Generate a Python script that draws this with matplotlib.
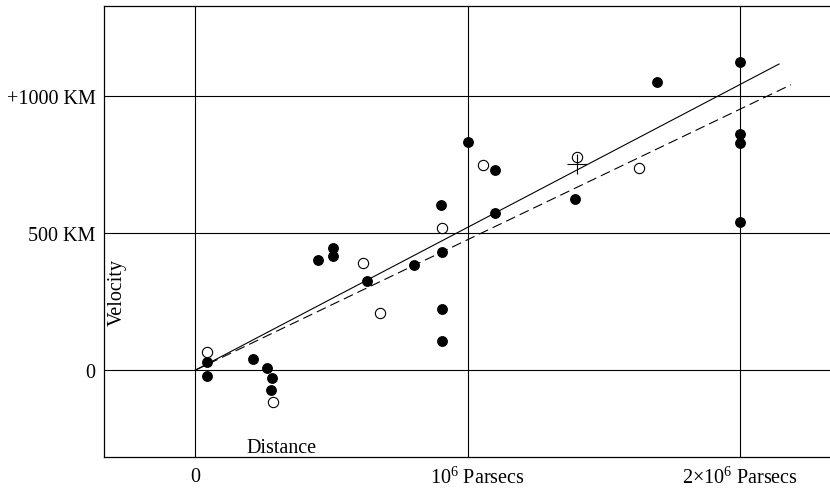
import matplotlib
matplotlib.use("Agg")
import matplotlib.pyplot as plt
import matplotlib.transforms as mtransforms
import numpy as np

plt.rcParams['font.family'] = ['Liberation Serif', 'DejaVu Serif']
plt.rcParams['mathtext.fontset'] = 'custom'
plt.rcParams['mathtext.rm'] = 'Liberation Serif'
plt.rcParams['mathtext.it'] = 'Liberation Serif:italic'

# distance in units of 10^6 parsecs, velocity in km/s
filled_x = [0.043, 0.043, 0.212, 0.265, 0.282, 0.280, 0.452, 0.505, 0.505,
            0.630, 0.804, 0.903, 0.908, 0.905, 0.905, 1.000, 1.100, 1.100,
            1.395, 1.695, 2.000, 2.000, 2.000, 2.000]
filled_v = [29, -20, 40, 8, -29, -72, 401, 446, 416,
            327, 384, 603, 433, 224, 108, 831, 732, 575,
            625, 1050, 1124, 860, 827, 542]

open_x = [0.043, 0.285, 0.615, 0.677, 0.906, 1.055, 1.400, 1.629]
open_v = [66, -115, 392, 209, 518, 750, 778, 737]

cross_x = [1.40]
cross_v = [752]

# fitted lines (slope in km/s per 10^6 pc, end distance)
solid_slope, solid_end = 521, 2.143
dashed_slope, dashed_end = 476, 2.187

grid_x = [0, 1, 2]
grid_y = [0, 500, 1000]
xtick_labels = ['0', '$10^6$ Parsecs', '2×$10^6$ Parsecs']
ytick_labels = ['0', '500 KM', '+1000 KM']

fig = plt.figure(figsize=(8.3, 4.89), dpi=100)
ax = fig.add_axes([104/830, 31/489, 1 - 104/830, 451/489])

for gx in grid_x:
    ax.axvline(gx, color='black', lw=0.8, zorder=1)
for gy in grid_y:
    ax.axhline(gy, color='black', lw=0.8, zorder=1)

xs = np.array([0, solid_end])
ax.plot(xs, solid_slope * xs, color='black', lw=0.8, zorder=2)
xd = np.array([0, dashed_end])
ax.plot(xd, dashed_slope * xd, color='black', lw=0.8, dashes=(9, 4.5), zorder=2)

ax.plot(filled_x, filled_v, 'o', color='black', markersize=6.8, zorder=3)
ax.plot(open_x, open_v, 'o', markerfacecolor='white', markeredgecolor='black',
        markeredgewidth=0.8, markersize=7.4, zorder=3)
ax.plot(cross_x, cross_v, '+', color='black', markersize=14, markeredgewidth=0.8, zorder=3)

ax.set_xlim(-0.334, 2.330)
ax.set_ylim(-316, 1328)

ax.set_xticks(grid_x)
ax.set_xticklabels(xtick_labels)
ax.set_yticks(grid_y)
ax.set_yticklabels(ytick_labels)
ax.tick_params(length=0, labelsize=14.5)
ax.tick_params(axis='x', pad=7)
ax.tick_params(axis='y', pad=6)

lbl = ax.get_xticklabels()[1]
lbl.set_transform(lbl.get_transform() + mtransforms.ScaledTranslation(0.10, 0, fig.dpi_scale_trans))

for s in ['left', 'top', 'bottom']:
    ax.spines[s].set_linewidth(0.9)
ax.spines['right'].set_visible(False)

ax.text(-0.286, 289, 'Velocity', rotation=90, ha='center', va='center', fontsize=14.5)
ax.text(0.316, -282, 'Distance', ha='center', va='center', fontsize=14.5)

fig.savefig('out.png', dpi=100)
